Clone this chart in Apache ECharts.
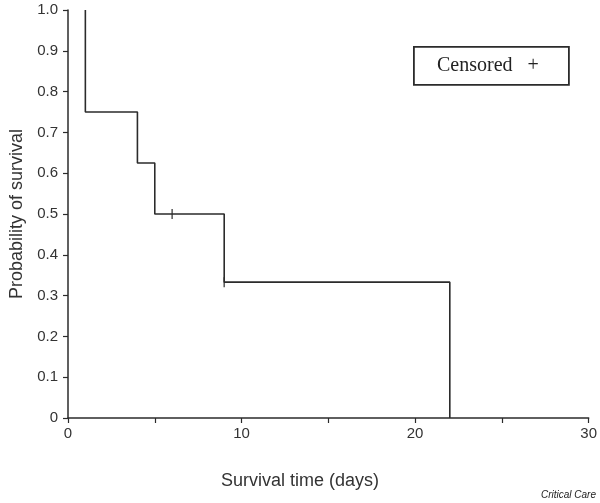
<!DOCTYPE html>
<html>
<head>
<meta charset="utf-8">
<script src="https://cdn.jsdelivr.net/npm/echarts@6/dist/echarts.min.js"></script>
<style>
html,body{margin:0;padding:0;background:#fff;}
#chart{width:600px;height:503px;}
</style>
</head>
<body>
<div id="chart"></div>
<script>
// Kaplan-Meier step points (time in days, survival probability)
var stepTimes = [1, 1, 4, 5, 9, 22];
var stepSurvival = [1.0, 0.75, 0.625, 0.5, 0.333, 0];
// Censored observations
var censorTimes = [6, 9];
var censorSurvival = [0.5, 0.333];
var xTickLabels = ['0', '10', '20', '30'];
var yTickLabels = ['0', '0.1', '0.2', '0.3', '0.4', '0.5', '0.6', '0.7', '0.8', '0.9', '1.0'];

var stepData = stepTimes.map(function (t, i) { return [t, stepSurvival[i]]; });
var censorData = censorTimes.map(function (t, i) { return [t, censorSurvival[i]]; });

var chart = echarts.init(document.getElementById('chart'), null, {renderer: 'canvas'});
var ink = '#2b2b2b';
chart.setOption({
  animation: false,
  backgroundColor: '#ffffff',
  grid: {left: 64, right: 8, top: 10, bottom: 85, containLabel: false},
  xAxis: {
    type: 'value', min: 0, max: 30, interval: 5,
    axisLine: {lineStyle: {color: ink, width: 1.5}},
    axisTick: {show: true, length: 5, lineStyle: {color: ink, width: 1.2}},
    splitLine: {show: false},
    axisLabel: {
      color: '#333', fontSize: 15, fontFamily: 'Liberation Sans, Arial, sans-serif', margin: 8,
      formatter: function (v) { var s = String(v); return xTickLabels.indexOf(s) >= 0 ? s : ''; }
    }
  },
  yAxis: {
    type: 'value', min: 0, max: 1, interval: 0.1,
    name: 'Probability of survival', nameLocation: 'middle', nameGap: 42,
    nameTextStyle: {color: '#333', fontSize: 18, fontFamily: 'Liberation Sans, Arial, sans-serif'},
    axisLine: {lineStyle: {color: ink, width: 1.5}},
    axisTick: {show: true, length: 5, lineStyle: {color: ink, width: 1.2}},
    splitLine: {show: false},
    axisLabel: {
      color: '#333', fontSize: 15, fontFamily: 'Liberation Sans, Arial, sans-serif', margin: 10,
      formatter: function (v) { return yTickLabels[Math.round(v * 10)]; }
    }
  },
  series: [
    {
      type: 'line', step: 'end', data: stepData, symbol: 'none',
      lineStyle: {color: ink, width: 1.6}
    },
    {
      type: 'scatter', data: censorData, symbol: 'rect', symbolSize: [1.5, 10],
      itemStyle: {color: ink}
    }
  ],
  graphic: [
    {
      type: 'rect', left: 413, top: 46,
      shape: {x: 0, y: 0, width: 155, height: 38},
      style: {fill: '#fff', stroke: ink, lineWidth: 1.8}
    },
    {
      type: 'text', left: 437, top: 56,
      style: {text: 'Censored   +', fill: '#222', font: '20px "Liberation Serif", "Times New Roman", serif'}
    },
    {
      type: 'text', left: 'center', top: 472,
      style: {text: 'Survival time (days)', fill: '#333', font: '18px "Liberation Sans", Arial, sans-serif'}
    },
    {
      type: 'text', right: 4, top: 490,
      style: {text: 'Critical Care', fill: '#222', font: 'italic 10px "Liberation Sans", Arial, sans-serif'}
    }
  ]
});
</script>
</body>
</html>
